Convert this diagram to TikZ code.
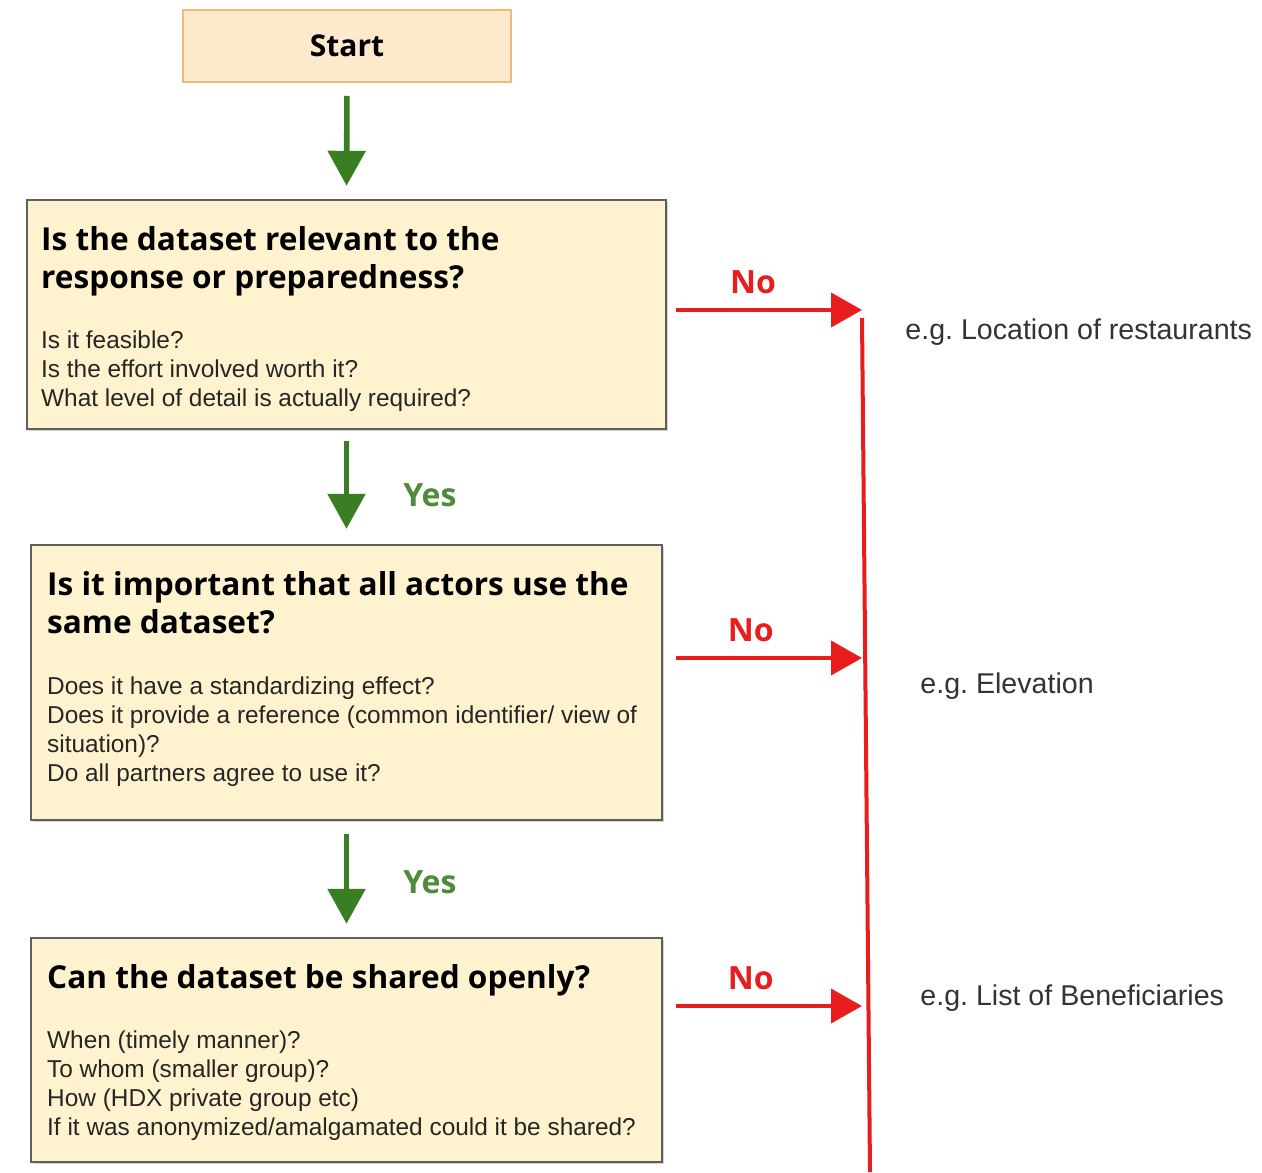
\documentclass[tikz,border=0pt]{standalone}
\usepackage{fontspec}
\setmainfont{Liberation Sans}
\newfontfamily\headfont{Open Sans}
\usepackage{xcolor}
\usetikzlibrary{arrows.meta,positioning,calc,shadows}

\definecolor{boxfill}{RGB}{255,242,206}
\definecolor{startfill}{RGB}{253,233,203}
\definecolor{startline}{RGB}{243,184,118}
\definecolor{boxline}{RGB}{95,95,95}
\definecolor{okgreen}{RGB}{58,126,36}
\definecolor{nored}{RGB}{232,30,30}

\begin{document}
\begin{tikzpicture}[
    x=0.5pt, y=-0.5pt,
    startbox/.style={rectangle, draw=startline, line width=0.8pt, fill=startfill, minimum width=164pt, minimum height=36pt, font=\headfont\bfseries\fontsize{15}{18}\selectfont},
    qbox/.style={rectangle, draw=boxline, line width=1.2pt, fill=boxfill, drop shadow={shadow xshift=1pt, shadow yshift=-1pt, opacity=0.35}},
    qtitle/.style={inner sep=0pt, align=left, font=\headfont\bfseries\fontsize{15.8}{19}\selectfont},
    qdetail/.style={inner sep=0pt, align=left, font=\fontsize{12.2}{14.5}\selectfont, text=black!85},
    golink/.style={-{Triangle[length=17.5pt,width=18.5pt]}, line width=2.8pt, draw=okgreen},
    nolink/.style={-{Triangle[length=15.5pt,width=17pt]}, line width=2pt, draw=nored},
    yeslabel/.style={inner sep=0pt, font=\headfont\bfseries\fontsize{16}{19}\selectfont, text=okgreen!90!white},
    nolabel/.style={inner sep=0pt, font=\headfont\bfseries\fontsize{16}{19}\selectfont, text=nored},
    example/.style={inner sep=0pt, font=\fontsize{14.3}{17}\selectfont, text=black!80}
]
    \fill[white] (0,0) rectangle (1262,1172);
    \useasboundingbox (0,0) rectangle (1262,1172);

    \node[startbox] (start) at (347,46) {Start};

    % Questions
    \node[qbox, minimum width=319.5pt, minimum height=114.5pt] (q1) at (346.5,314.5) {};
    \node[qtitle, below right=13.5pt and 7.5pt of q1.north west] (q1t) {Is the dataset relevant to the\\response or preparedness?};
    \node[qdetail, below right=65.75pt and 7.5pt of q1.north west] (q1d) {Is it feasible?\\Is the effort involved worth it?\\What level of detail is actually required?};

    \node[qbox, minimum width=315.5pt, minimum height=137.5pt] (q2) at (346.5,682.5) {};
    \node[qtitle, below right=13.5pt and 8.5pt of q2.north west] (q2t) {Is it important that all actors use the\\same dataset?};
    \node[qdetail, below right=66.25pt and 8.5pt of q2.north west] (q2d) {Does it have a standardizing effect?\\Does it provide a reference (common identifier/ view of\\situation)?\\Do all partners agree to use it?};

    \node[qbox, minimum width=315.5pt, minimum height=112pt] (q3) at (346.5,1050) {};
    \node[qtitle, below right=13.5pt and 8.5pt of q3.north west] (q3t) {Can the dataset be shared openly?};
    \node[qdetail, below right=46.75pt and 8.5pt of q3.north west] (q3d) {When (timely manner)?\\To whom (smaller group)?\\How (HDX private group etc)\\If it was anonymized/amalgamated could it be shared?};

    \draw[golink, shorten <=6.5pt, shorten >=6.5pt] (start.south) -- (q1.north);
    \draw[golink, shorten <=5.5pt, shorten >=7.5pt] (q1.south) -- node[yeslabel, right=27pt, pos=0.57] (yes1) {Yes} (q2.north);
    \draw[golink, shorten <=6.5pt, shorten >=6.5pt] (q2.south) -- node[yeslabel, right=27pt, pos=0.53] (yes2) {Yes} (q3.north);

    % No branch
    \coordinate (bus1) at (862,310);
    \coordinate (bus2) at (862,658);
    \coordinate (bus3) at (862,1006);
    \coordinate (bustop) at (862,318);
    \coordinate (busend) at (870,1172);
    \draw[nored, line width=2pt] (bustop) -- (busend);

    \draw[nolink, shorten <=4.5pt] (q1.east |- bus1) -- node[nolabel, above=7pt, pos=0.44] (no1) {No} (bus1);
    \draw[nolink, shorten <=6.5pt] (q2.east |- bus2) -- node[nolabel, above=7pt, pos=0.44] (no2) {No} (bus2);
    \draw[nolink, shorten <=6.5pt] (q3.east |- bus3) -- node[nolabel, above=7pt, pos=0.44] (no3) {No} (bus3);

    \node[example, right=21.5pt of bus1, yshift=-11pt] (ex1) {e.g.\ Location of restaurants};
    \node[example, right=29pt of bus2, yshift=-14pt] (ex2) {e.g.\ Elevation};
    \node[example, right=29pt of bus3, yshift=4pt] (ex3) {e.g.\ List of Beneficiaries};
\end{tikzpicture}
\end{document}
